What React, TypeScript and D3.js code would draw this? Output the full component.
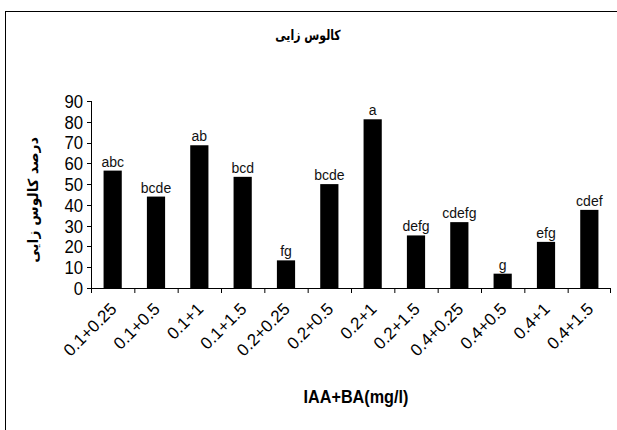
import { useMemo } from "react";
import { scaleBand, scaleLinear } from "d3";

const WIDTH = 617;
const HEIGHT = 430;

const categories = [
  "0.1+0.25", "0.1+0.5", "0.1+1", "0.1+1.5", "0.2+0.25", "0.2+0.5",
  "0.2+1", "0.2+1.5", "0.4+0.25", "0.4+0.5", "0.4+1", "0.4+1.5",
];
const values = [56.5, 44, 68.7, 53.5, 13.3, 50, 81.2, 25.3, 31.7, 6.9, 22.2, 37.6];
const letters = ["abc", "bcde", "ab", "bcd", "fg", "bcde", "a", "defg", "cdefg", "g", "efg", "cdef"];
const yTicks = [0, 10, 20, 30, 40, 50, 60, 70, 80, 90];

const title = "کالوس زایی";
const yTitle = "درصد کالوس زایی";
const xTitle = "IAA+BA(mg/l)";

const margin = { left: 91, right: 6, top: 101, bottom: 142 };

export default function App() {
  const x = useMemo(
    () => scaleBand().domain(categories).range([margin.left, WIDTH - margin.right]).paddingInner(0.58).paddingOuter(0.29),
    []
  );
  const y = useMemo(() => scaleLinear().domain([0, 90]).range([HEIGHT - margin.bottom, margin.top]), []);
  const step = x.step();
  const x0 = margin.left;
  const x1 = WIDTH - margin.right;
  const yBase = y(0);

  return (
    <svg
      width={WIDTH}
      height={HEIGHT}
      viewBox={`0 0 ${WIDTH} ${HEIGHT}`}
      style={{ position: "absolute", left: 0, top: 0, background: "#fff" }}
      fontFamily="'Liberation Sans', Arial, sans-serif"
    >
      <rect x={5.5} y={11.5} width={WIDTH + 10} height={HEIGHT + 10} fill="#fff" stroke="#000" strokeWidth={1} />

      <text
        x={308}
        y={40}
        textAnchor="middle"
        fontSize={14}
        fontWeight="bold"
        fontFamily="'DejaVu Sans', sans-serif"
        transform="translate(308 0) scale(0.78 1) translate(-308 0)"
      >
        {title}
      </text>

      {/* y axis */}
      <line x1={x0 + 0.5} x2={x0 + 0.5} y1={y(90)} y2={yBase} stroke="#000" />
      {yTicks.map((t) => (
        <g key={t}>
          <line x1={x0 - 4} x2={x0} y1={Math.round(y(t)) + 0.5} y2={Math.round(y(t)) + 0.5} stroke="#000" />
          <text x={83} y={y(t)} dy="0.36em" textAnchor="end" fontSize={19} transform={`translate(83 0) scale(0.88 1) translate(-83 0)`}>
            {t}
          </text>
        </g>
      ))}

      {/* bars */}
      {categories.map((c, i) => (
        <g key={c}>
          <rect x={x(c)} y={y(values[i])} width={x.bandwidth()} height={yBase - y(values[i])} fill="#000" />
          <text x={(x(c) ?? 0) + x.bandwidth() / 2} y={y(values[i]) - 4} textAnchor="middle" fontSize={14} fill="#111">
            {letters[i]}
          </text>
        </g>
      ))}

      {/* x axis */}
      <line x1={x0} x2={x1} y1={Math.round(yBase) + 0.5} y2={Math.round(yBase) + 0.5} stroke="#000" />
      {categories.map((c, i) => (
        <line key={"t" + c} x1={x0 + i * step + 0.5} x2={x0 + i * step + 0.5} y1={yBase} y2={yBase + 5} stroke="#000" />
      ))}
      <line x1={x1 - 0.5} x2={x1 - 0.5} y1={yBase} y2={yBase + 5} stroke="#000" />
      {categories.map((c) => {
        const cx = (x(c) ?? 0) + x.bandwidth() / 2 + 5;
        const cy = yBase + 22;
        return (
          <text key={"l" + c} x={cx} y={cy} textAnchor="end" fontSize={17} transform={`rotate(-45 ${cx} ${cy})`}>
            {c}
          </text>
        );
      })}

      <text x={356} y={403} textAnchor="middle" fontSize={18} fontWeight="bold" transform="translate(356 0) scale(0.9 1) translate(-356 0)">
        {xTitle}
      </text>

      <text
        x={0}
        y={0}
        textAnchor="middle"
        fontSize={14}
        fontWeight="bold"
        fontFamily="'DejaVu Sans', sans-serif"
        transform={`translate(38 200) rotate(-90)`}
      >
        {yTitle}
      </text>
    </svg>
  );
}
